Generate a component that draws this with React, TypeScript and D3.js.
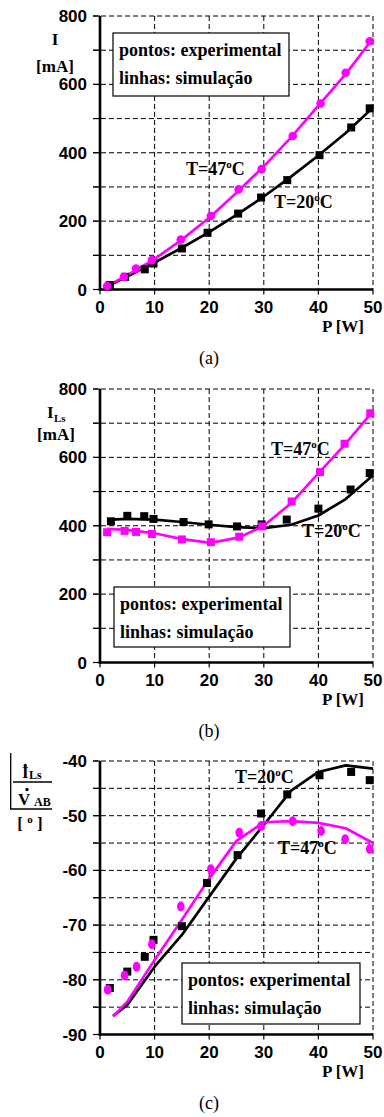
import React from "react";
import * as d3 from "d3";

// Shared axis values
const P_TICKS = [0, 10, 20, 30, 40, 50];
const P_GRID = [10, 20, 30, 40, 50];
const I_TICKS = [0, 200, 400, 600, 800];
const I_GRID = [100, 200, 300, 400, 500, 600, 700, 800];
const PH_TICKS = [-90, -80, -70, -60, -50, -40];
const PH_GRID = [-85, -80, -75, -70, -65, -60, -55, -50, -45, -40];

// (a) lamp current I [mA]
const A_P20_EXP = [1.8, 4.6, 8.2, 9.8, 15, 19.7, 25.3, 29.5, 34.3, 40.2, 46, 49.4];
const A_I20_EXP = [13, 37, 59, 76, 120, 166, 222, 269, 320, 393, 474, 530];
const A_P20_SIM = [1.8, 5, 10, 15, 20, 25, 30, 35, 40, 45, 50];
const A_I20_SIM = [13, 38, 79, 122, 168, 218, 272, 330, 392, 458, 532];
const A_P47_EXP = [1.3, 4.4, 6.6, 9.5, 14.8, 20.3, 25.4, 29.6, 35.3, 40.4, 45, 49.4];
const A_I47_EXP = [10, 37, 61, 86, 146, 215, 293, 352, 449, 544, 634, 726];
const A_P47_SIM = [1.3, 5, 10, 15, 20, 25, 30, 35, 40, 45, 50];
const A_I47_SIM = [10, 42, 89, 146, 210, 283, 360, 445, 538, 630, 735];

// (b) inductor current I_Ls [mA]
const B_P20_EXP = [2, 5, 8.1, 9.8, 15.3, 19.9, 25.1, 29.6, 34.2, 40, 45.9, 49.4];
const B_I20_EXP = [413, 429, 428, 420, 411, 404, 398, 404, 418, 450, 506, 554];
const B_P20_SIM = [2, 5, 10, 15, 20, 25, 30, 35, 40, 45, 50];
const B_I20_SIM = [418, 420, 418, 411, 403, 396, 393, 403, 430, 478, 548];
const B_P47_EXP = [1.3, 4.5, 6.6, 9.5, 15, 20.3, 25.5, 29.7, 35.1, 40.3, 44.8, 49.5];
const B_I47_EXP = [381, 385, 382, 376, 360, 352, 368, 398, 471, 557, 640, 729];
const B_P47_SIM = [1.3, 5, 10, 15, 20.3, 25.5, 30, 35, 40, 45, 50];
const B_I47_SIM = [391, 388, 378, 361, 350, 366, 400, 466, 553, 640, 735];

// (c) phase angle of I_Ls / V_AB [degrees]
const C_P20_EXP = [1.8, 5, 8.2, 9.8, 15, 19.6, 25.2, 29.5, 34.3, 40.2, 46, 49.4];
const C_V20_EXP = [-81.5, -78.5, -75.8, -72.7, -70.2, -62.3, -57.2, -49.6, -46.1, -42.6, -42, -43.5];
const C_P20_SIM = [2.4, 5, 10, 15, 20, 25, 30, 35, 40, 45, 50];
const C_V20_SIM = [-86.6, -84.6, -77.6, -71.8, -64.8, -57.8, -51.7, -45.4, -42, -40.8, -41.4];
const C_P47_EXP = [1.4, 4.5, 6.7, 9.5, 14.8, 20.3, 25.5, 29.5, 35.3, 40.5, 44.9, 49.4];
const C_V47_EXP = [-81.8, -79.2, -77.6, -73.5, -66.6, -59.8, -53.1, -51.9, -51, -52.8, -54.3, -56.1];
const C_P47_SIM = [2.4, 5, 10, 15, 20, 25, 30, 35, 40, 45, 50];
const C_V47_SIM = [-86.7, -84, -76.4, -69, -61.5, -54.6, -51.2, -51, -51.3, -52.3, -55];

const MAGENTA = "#ff00ff";
const SANS = "'Liberation Sans', Arial, sans-serif";
const SERIF = "'Liberation Serif', 'Times New Roman', serif";

const LEFT = 100;
const RIGHT = 373;
const PLOT_H = 273.5;

type Pt = [number, number];
const zip = (xs: number[], ys: number[]): Pt[] => xs.map((x, i) => [x, ys[i]]);

type Series = {
  color: string;
  marker: "square" | "circle" | "ellipse";
  exp: Pt[];
  sim: Pt[];
};

type PanelProps = {
  top: number;
  yDomain: [number, number];
  yTicks: number[];
  yGrid: number[];
  series: Series[];
  legend: { dx: number; dy: number; w: number; h: number };
  tLabels: { text: string; dx: number; dy: number }[];
  caption: string;
  yLabel: React.ReactNode;
};

function TLabel({ x, y, text }: { x: number; y: number; text: string }) {
  return (
    <text x={x} y={y} fontFamily={SERIF} fontWeight="bold" fontSize={18}>
      {"T=" + text}
      <tspan fontSize={11} dy={-7}>o</tspan>
      <tspan dy={7}>C</tspan>
    </text>
  );
}

function Panel(props: PanelProps) {
  const { top, yDomain, yTicks, yGrid, series, legend, tLabels, caption, yLabel } = props;
  const bottom = top + PLOT_H;
  const x = d3.scaleLinear().domain([0, 50]).range([LEFT, RIGHT]);
  const y = d3.scaleLinear().domain(yDomain).range([bottom, top]);
  const line = d3
    .line<Pt>()
    .x((d) => x(d[0]))
    .y((d) => y(d[1]));

  return (
    <g>
      {/* dashed grid */}
      {yGrid.map((v) => (
        <line key={"h" + v} x1={LEFT - 7} x2={RIGHT} y1={y(v)} y2={y(v)}
          stroke="#000" strokeWidth={1} strokeDasharray="5,3" />
      ))}
      {P_GRID.map((v) => (
        <line key={"v" + v} x1={x(v)} x2={x(v)} y1={top} y2={bottom}
          stroke="#000" strokeWidth={1} strokeDasharray="5,3" />
      ))}
      {/* outward ticks */}
      {yGrid.concat([yDomain[0]]).map((v) => (
        <line key={"yt" + v} x1={LEFT - 7} x2={LEFT} y1={y(v)} y2={y(v)} stroke="#000" strokeWidth={1.2} />
      ))}
      {P_TICKS.map((v) => (
        <line key={"xt" + v} x1={x(v)} x2={x(v)} y1={bottom} y2={bottom + 5} stroke="#000" strokeWidth={1.2} />
      ))}
      {/* axes */}
      <line x1={LEFT} x2={LEFT} y1={top} y2={bottom + 1.2} stroke="#000" strokeWidth={2.6} />
      <line x1={LEFT - 1.2} x2={RIGHT} y1={bottom} y2={bottom} stroke="#000" strokeWidth={2.6} />

      {/* tick labels */}
      {yTicks.map((v) => (
        <text key={"yl" + v} x={87} y={y(v) + 6} textAnchor="end"
          fontFamily={SANS} fontWeight="bold" fontSize={17}>{v}</text>
      ))}
      {P_TICKS.map((v) => (
        <text key={"xl" + v} x={x(v)} y={bottom + 23} textAnchor="middle"
          fontFamily={SANS} fontWeight="bold" fontSize={17}>{v}</text>
      ))}
      <text x={343} y={bottom + 42} textAnchor="middle" fontFamily={SERIF} fontWeight="bold" fontSize={17}>
        P [W]
      </text>

      {/* legend box */}
      <rect x={LEFT + legend.dx} y={top + legend.dy} width={legend.w} height={legend.h}
        fill="#fff" stroke="#000" strokeWidth={1.2} />
      <text x={LEFT + legend.dx + 6} y={top + legend.dy + 23} fontFamily={SERIF} fontWeight="bold" fontSize={18}>
        pontos: experimental
      </text>
      <text x={LEFT + legend.dx + 6} y={top + legend.dy + 51} fontFamily={SERIF} fontWeight="bold" fontSize={18}>
        linhas: simulação
      </text>

      {/* simulated curves */}
      {series.map((s, i) => (
        <path key={"sim" + i} d={line(s.sim) || ""} fill="none" stroke={s.color} strokeWidth={2.7}
          strokeLinejoin="round" />
      ))}
      {/* measured points */}
      {series.map((s, i) =>
        s.exp.map((d, j) =>
          s.marker === "square" ? (
            <rect key={"e" + i + "-" + j} x={x(d[0]) - 4} y={y(d[1]) - 4} width={8} height={8} fill={s.color} />
          ) : (
            <ellipse key={"e" + i + "-" + j} cx={x(d[0])} cy={y(d[1])}
              rx={s.marker === "circle" ? 4.3 : 3.8} ry={s.marker === "circle" ? 4.3 : 5} fill={s.color} />
          )
        )
      )}

      {tLabels.map((t, i) => (
        <TLabel key={"t" + i} x={t.dx} y={top + t.dy} text={t.text} />
      ))}

      {yLabel}

      <text x={209} y={bottom + 74} textAnchor="middle" fontFamily={SERIF} fontSize={18}>
        {caption}
      </text>
    </g>
  );
}

export default function App() {
  const topA = 16;
  const topB = 389;
  const topC = 761;

  const labelA = (
    <g fontFamily={SERIF} fontWeight="bold" fontSize={17} textAnchor="middle">
      <text x={55} y={topA + 29}>I</text>
      <text x={55} y={topA + 56}>[mA]</text>
    </g>
  );
  const labelB = (
    <g fontFamily={SERIF} fontWeight="bold" fontSize={17}>
      <text x={47} y={topB + 29}>I</text>
      <text x={54} y={topB + 33} fontSize={11}>Ls</text>
      <text x={56} y={topB + 51} textAnchor="middle">[mA]</text>
    </g>
  );
  const labelC = (
    <g fontFamily={SERIF} fontWeight="bold" fontSize={17}>
      <line x1={10.7} x2={10.7} y1={753} y2={809} stroke="#000" strokeWidth={1.3} />
      <line x1={10} x2={52} y1={809} y2={809} stroke="#000" strokeWidth={1.3} />
      <line x1={13} x2={52} y1={782} y2={782} stroke="#000" strokeWidth={1.3} />
      <text x={22} y={778}>I</text>
      <circle cx={25.3} cy={765.5} r={1.7} fill="#000" />
      <text x={29} y={779} fontSize={12}>Ls</text>
      <text x={18} y={805}>V</text>
      <circle cx={27} cy={789.5} r={1.7} fill="#000" />
      <text x={34} y={806} fontSize={12}>AB</text>
      <text x={30} y={829} textAnchor="middle" fontSize={17}>
        [ <tspan fontSize={11} dy={-6}>o</tspan><tspan dy={6}> ]</tspan>
      </text>
    </g>
  );

  return (
    <svg width={384} height={1117} style={{ position: "absolute", left: 0, top: 0, background: "#fff" }}>
      <rect x={0} y={0} width={384} height={1117} fill="#fff" />
      <Panel
        top={topA}
        yDomain={[0, 800]}
        yTicks={I_TICKS}
        yGrid={I_GRID}
        series={[
          { color: "#000", marker: "square", exp: zip(A_P20_EXP, A_I20_EXP), sim: zip(A_P20_SIM, A_I20_SIM) },
          { color: MAGENTA, marker: "circle", exp: zip(A_P47_EXP, A_I47_EXP), sim: zip(A_P47_SIM, A_I47_SIM) },
        ]}
        legend={{ dx: 13, dy: 17, w: 176, h: 63 }}
        tLabels={[
          { text: "47", dx: 186, dy: 159 },
          { text: "20", dx: 274, dy: 192 },
        ]}
        caption="(a)"
        yLabel={labelA}
      />
      <Panel
        top={topB}
        yDomain={[0, 800]}
        yTicks={I_TICKS}
        yGrid={I_GRID}
        series={[
          { color: "#000", marker: "square", exp: zip(B_P20_EXP, B_I20_EXP), sim: zip(B_P20_SIM, B_I20_SIM) },
          { color: MAGENTA, marker: "square", exp: zip(B_P47_EXP, B_I47_EXP), sim: zip(B_P47_SIM, B_I47_SIM) },
        ]}
        legend={{ dx: 14, dy: 198, w: 176, h: 60 }}
        tLabels={[
          { text: "47", dx: 271, dy: 66 },
          { text: "20", dx: 302, dy: 148 },
        ]}
        caption="(b)"
        yLabel={labelB}
      />
      <Panel
        top={topC}
        yDomain={[-90, -40]}
        yTicks={PH_TICKS}
        yGrid={PH_GRID}
        series={[
          { color: "#000", marker: "square", exp: zip(C_P20_EXP, C_V20_EXP), sim: zip(C_P20_SIM, C_V20_SIM) },
          { color: MAGENTA, marker: "ellipse", exp: zip(C_P47_EXP, C_V47_EXP), sim: zip(C_P47_SIM, C_V47_SIM) },
        ]}
        legend={{ dx: 82, dy: 202, w: 178, h: 61 }}
        tLabels={[
          { text: "20", dx: 235, dy: 22 },
          { text: "47", dx: 278, dy: 93 },
        ]}
        caption="(c)"
        yLabel={labelC}
      />
    </svg>
  );
}
